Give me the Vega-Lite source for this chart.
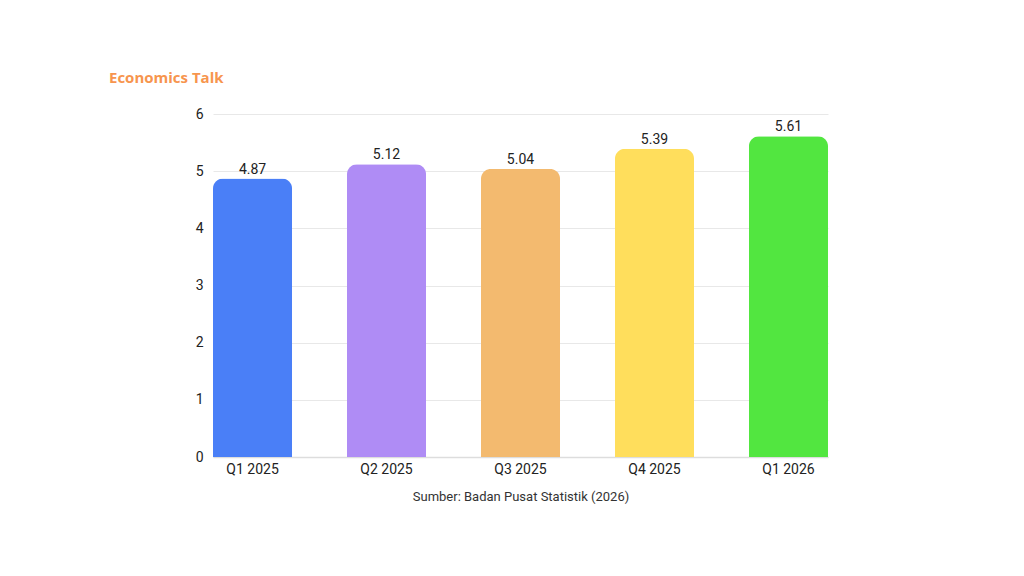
{
  "$schema": "https://vega.github.io/schema/vega-lite/v6.json",
  "width": 615,
  "height": 343,
  "autosize": {"type": "none"},
  "padding": {"left": 213, "top": 114, "right": 196, "bottom": 119},
  "background": "white",
  "config": {
    "view": {"stroke": null},
    "font": "Roboto"
  },
  "title": {
    "text": "Economics Talk",
    "anchor": "start",
    "frame": "group",
    "dx": -104,
    "offset": 21,
    "fontSize": 15,
    "fontWeight": "bold",
    "font": "Open Sans",
    "color": "#F7954E"
  },
  "data": {
    "values": [
      {"quarter": "Q1 2025", "growth": 4.87},
      {"quarter": "Q2 2025", "growth": 5.12},
      {"quarter": "Q3 2025", "growth": 5.04},
      {"quarter": "Q4 2025", "growth": 5.39},
      {"quarter": "Q1 2026", "growth": 5.61}
    ]
  },
  "encoding": {
    "x": {
      "field": "quarter",
      "type": "nominal",
      "sort": null,
      "scale": {"paddingInner": 0.41, "paddingOuter": 0},
      "axis": {
        "title": "Sumber: Badan Pusat Statistik (2026)",
        "titleFontSize": 13,
        "titleFontWeight": "normal",
        "titleColor": "#333333",
        "titlePadding": 14,
        "labelAngle": 0,
        "labelFontSize": 14,
        "labelColor": "#222222",
        "labelPadding": 5,
        "ticks": false,
        "domainColor": "#dddddd",
        "domainWidth": 1.5
      }
    },
    "y": {
      "field": "growth",
      "type": "quantitative",
      "scale": {"domain": [0, 6]},
      "axis": {
        "title": null,
        "values": [0, 1, 2, 3, 4, 5, 6],
        "labelFontSize": 14,
        "labelColor": "#222222",
        "labelPadding": 10,
        "ticks": false,
        "domain": false,
        "gridColor": "#e8e8e8"
      }
    }
  },
  "layer": [
    {
      "mark": {"type": "bar", "cornerRadiusTopLeft": 10, "cornerRadiusTopRight": 10},
      "encoding": {
        "color": {
          "field": "quarter",
          "type": "nominal",
          "legend": null,
          "scale": {
            "domain": ["Q1 2025", "Q2 2025", "Q3 2025", "Q4 2025", "Q1 2026"],
            "range": ["#4A7FF7", "#AF8CF5", "#F3BA6F", "#FFDE5C", "#52E640"]
          }
        }
      }
    },
    {
      "mark": {"type": "text", "baseline": "bottom", "dy": -2, "fontSize": 14, "color": "#222222"},
      "encoding": {
        "text": {"field": "growth", "type": "quantitative", "format": ".2f"}
      }
    }
  ]
}
